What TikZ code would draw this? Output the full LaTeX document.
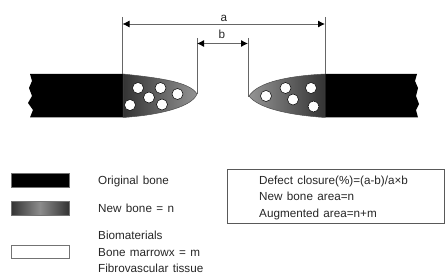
\documentclass[tikz,border=0pt]{standalone}
\usepackage{fontspec}
\usetikzlibrary{arrows.meta}
\setmainfont[WordSpace=1.35]{Liberation Sans}
\begin{document}
\begin{tikzpicture}[x=1pt,y=-1pt,
  lbl/.style={inner sep=0pt,anchor=base west,text=black!85,font=\fontsize{11.7}{13}\selectfont},
  dimline/.style={draw=black!60,line width=0.9pt},
  dimarrow/.style={draw=black!60,line width=0.9pt,-{Latex[black,length=7pt,width=7pt]}},
  hole/.style={circle,draw=black,line width=0.5pt,fill=white,minimum size=11pt,inner sep=0pt},
  legendbox/.style={draw=black!55,line width=0.7pt}]
\useasboundingbox (0,0) rectangle (448,275);

% Bone stumps with torn outer edges
\fill[black] (30,74) -- (123,74) -- (123,117.5) -- (30,117.5) -- (33,110) -- (28,103) -- (32,96) -- (29,88) -- (32,81) -- cycle;
\fill[black] (325,74) -- (417,74) -- (415,81) -- (418,88) -- (416,96) -- (419,104) -- (416,110) -- (418,117.5) -- (325,117.5) -- cycle;

% Regenerated bone tongues
\path[draw=black!70,line width=0.5pt,left color=black!80,right color=black!42]
  (123,74) .. controls (160,78) and (190,82) .. (197,94) .. controls (192,107) and (160,115) .. (123,117.5) -- cycle;
\path[draw=black!70,line width=0.5pt,right color=black!80,left color=black!42]
  (325,74) .. controls (288,76) and (258,82) .. (249,96) .. controls (258,108) and (288,115) .. (325,117.5) -- cycle;

% Marrow spaces in the left tongue
\node[hole] (l1) at (138,88) {};
\node[hole] (l2) at (160.5,88) {};
\node[hole] (l3) at (177.5,94) {};
\node[hole] (l4) at (149,97.5) {};
\node[hole] (l5) at (130,105) {};
\node[hole] (l6) at (162,104.5) {};
% Marrow spaces in the right tongue
\node[hole] (r1) at (266,96) {};
\node[hole] (r2) at (285.5,88) {};
\node[hole] (r3) at (311,88) {};
\node[hole] (r4) at (293,99.5) {};
\node[hole] (r5) at (313.5,106.5) {};

% Dimension lines
\coordinate (aLtop) at (122.5,17);
\coordinate (aLbot) at (122.5,74);
\coordinate (aRtop) at (325,17);
\coordinate (aRbot) at (325,74);
\coordinate (bLtop) at (197,38);
\coordinate (bLbot) at (197,94);
\coordinate (bRtop) at (248,38);
\coordinate (bRbot) at (248,97);
\coordinate (aL) at (122.5,24);
\coordinate (aR) at (325,24);
\coordinate (bL) at (197,43.5);
\coordinate (bR) at (248,43.5);
\coordinate (aM) at (224,24);
\coordinate (bM) at (222,43.5);
\draw[dimline] (aLtop) -- (aLbot);
\draw[dimline] (aRtop) -- (aRbot);
\draw[dimline] (bLtop) -- (bLbot);
\draw[dimline] (bRtop) -- (bRbot);
\draw[dimarrow] (aM) -- (aL);
\draw[dimarrow] (aM) -- (aR);
\draw[dimarrow] (bM) -- (bL);
\draw[dimarrow] (bM) -- (bR);
\node[lbl,anchor=base] (alabel) at (224,21.5) {a};
\node[lbl,anchor=base] (blabel) at (222,38.5) {b};

% Legend swatches
\node[legendbox,fill=black,minimum width=58pt,minimum height=13.5pt,inner sep=0pt] (swOld) at (40,180.5) {};
\node[legendbox,minimum width=58pt,minimum height=14pt,inner sep=0pt,
  left color=black!80,right color=black!80,middle color=black!45] (swNew) at (40,208.5) {};
\node[legendbox,fill=white,minimum width=58pt,minimum height=13.5pt,inner sep=0pt] (swVoid) at (40,252) {};

% Legend text
\node[lbl] (tOld) at (98,185) {Original bone};
\node[lbl] (tNew) at (98,212.7) {New bone = n};
\node[lbl] (tBio) at (98,240) {Biomaterials};
\node[lbl] (tMar) at (98,256.3) {Bone marrowx = m};
\node[lbl] (tFib) at (98,272.7) {Fibrovascular tissue};

% Formula box
\node[draw=black!65,line width=0.8pt,minimum width=216.5pt,minimum height=54pt,inner sep=0pt] (formula) at (336,196) {};
\node[lbl] (f1) at (259,184.3) {Defect closure(\%)=(a-b)/a×b};
\node[lbl] (f2) at (259,200.8) {New bone area=n};
\node[lbl] (f3) at (259,217.2) {Augmented area=n+m};
\end{tikzpicture}
\end{document}
